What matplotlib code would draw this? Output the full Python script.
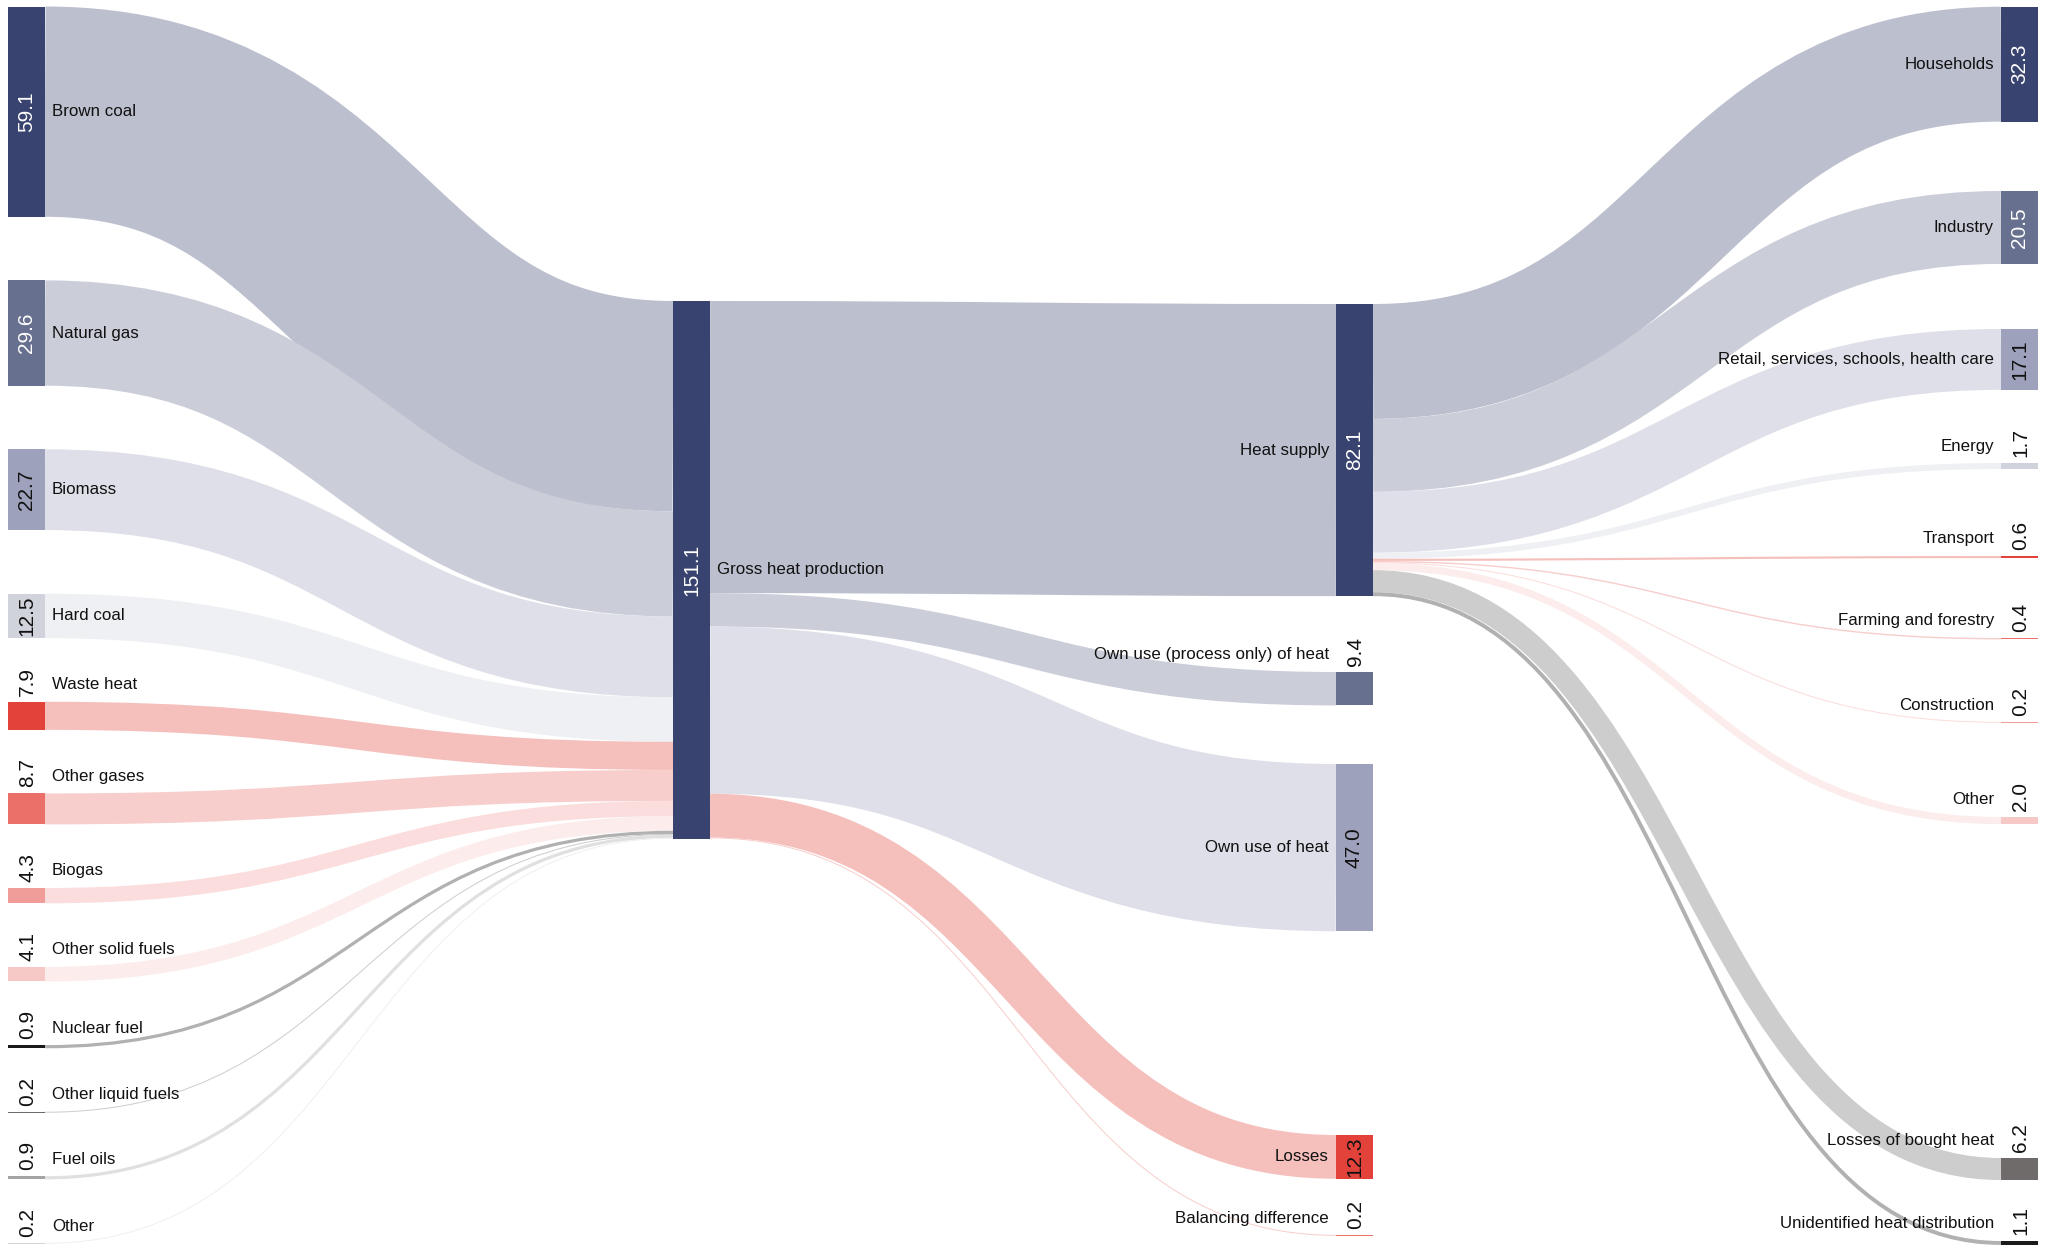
import matplotlib
matplotlib.use("Agg")
import matplotlib.pyplot as plt
from matplotlib.colors import to_rgb
from matplotlib.path import Path
from matplotlib.patches import PathPatch, Rectangle

plt.rcParams['font.family'] = ['Liberation Sans', 'DejaVu Sans']

# heat balance, PJ
sources = ["Brown coal", "Natural gas", "Biomass", "Hard coal", "Waste heat", "Other gases",
           "Biogas", "Other solid fuels", "Nuclear fuel", "Other liquid fuels", "Fuel oils", "Other"]
source_values = [59.1, 29.6, 22.7, 12.5, 7.9, 8.7, 4.3, 4.1, 0.9, 0.2, 0.9, 0.2]

production = "Gross heat production"
production_value = 151.1

uses = ["Heat supply", "Own use (process only) of heat", "Own use of heat", "Losses",
        "Balancing difference"]
use_values = [82.1, 9.4, 47.0, 12.3, 0.2]

consumers = ["Households", "Industry", "Retail, services, schools, health care", "Energy",
             "Transport", "Farming and forestry", "Construction", "Other",
             "Losses of bought heat", "Unidentified heat distribution"]
consumer_values = [32.3, 20.5, 17.1, 1.7, 0.6, 0.4, 0.2, 2.0, 6.2, 1.1]

# colours
blues = ['#394370', '#67708f', '#9ea1bb', '#d0d2dc']
reds = ['#e3423b', '#eb706a', '#f09c98', '#f6c9c6']
greys = ['#1a1a1a', '#6b6b6b', '#a3a3a3', '#d4d4d4']
source_colors = blues + reds + greys
production_color = blues[0]
use_colors = blues[:3] + reds[:2]
consumer_colors = blues + reds + ['#6f6b6b', '#1a1a1a']
LINK_OPACITY = 0.34

# layout (pixels)
K = 3.558           # px per PJ
NODE_W = 37
COL_X = [8, 673, 1336, 2001]
LEFT_TOP, LEFT_PAD = 6.5, 63.6
PRODUCTION_TOP = 301
USE_TOPS = [304, 672, 764, 1135, 1235]
CONSUMER_TOPS = [6.7, 191, 329, 463, 556, 638, 722, 817, 1158, 1241]

nodes = {}


def add_node(key, label, col, top, value, color):
    nodes[key] = dict(label=label, col=col, x=COL_X[col], top=top, value=value,
                      h=value * K, color=color, out_off=0.0, in_off=0.0)


def faded(color):
    r, g, b = to_rgb(color)
    a = LINK_OPACITY
    return (1 - a + a * r, 1 - a + a * g, 1 - a + a * b)


y = LEFT_TOP
for i, (name, v) in enumerate(zip(sources, source_values)):
    add_node(('s', i), name, 0, y, v, source_colors[i])
    y += v * K + LEFT_PAD
add_node('p', production, 1, PRODUCTION_TOP, production_value, production_color)
for i, (name, v) in enumerate(zip(uses, use_values)):
    add_node(('u', i), name, 2, USE_TOPS[i], v, use_colors[i])
for i, (name, v) in enumerate(zip(consumers, consumer_values)):
    add_node(('c', i), name, 3, CONSUMER_TOPS[i], v, consumer_colors[i])

links = [(('s', i), 'p', v) for i, v in enumerate(source_values)]
links += [('p', ('u', i), v) for i, v in enumerate(use_values)]
links += [(('u', 0), ('c', i), v) for i, v in enumerate(consumer_values)]

fig = plt.figure(figsize=(20.51, 12.5), dpi=100)
ax = fig.add_axes([0, 0, 1, 1])
ax.set_xlim(0, 2051)
ax.set_ylim(1250, 0)
ax.axis('off')

# stack link ends on each node, ordered by the position of the node at the other end
out_order = sorted(links, key=lambda l: nodes[l[1]]['top'])
in_order = sorted(links, key=lambda l: nodes[l[0]]['top'])
y_start, y_end = {}, {}
for l in out_order:
    n = nodes[l[0]]
    w = l[2] * K
    y_start[l] = n['top'] + n['out_off'] + w / 2
    n['out_off'] += w
for l in in_order:
    n = nodes[l[1]]
    w = l[2] * K
    y_end[l] = n['top'] + n['in_off'] + w / 2
    n['in_off'] += w

for l in links:
    src, dst = nodes[l[0]], nodes[l[1]]
    color = src['color'] if l[1] == 'p' else dst['color']
    x0 = src['x'] + NODE_W
    x1 = dst['x']
    xm = (x0 + x1) / 2
    y0, y1 = y_start[l], y_end[l]
    path = Path([(x0, y0), (xm, y0), (xm, y1), (x1, y1)],
                [Path.MOVETO, Path.CURVE4, Path.CURVE4, Path.CURVE4])
    ax.add_patch(PathPatch(path, facecolor='none', edgecolor=faded(color),
                           lw=max(l[2] * K, 1.0) * 0.72, capstyle='butt'))

for key, n in nodes.items():
    h = max(n['h'], 1.2)
    ax.add_patch(Rectangle((n['x'], n['top']), NODE_W, h, facecolor=n['color'],
                           edgecolor='none'))
    cx = n['x'] + NODE_W / 2
    inside = n['value'] >= 10
    text = f"{n['value']:.1f}"
    if inside:
        tc = 'white' if n['color'] in (blues[0], blues[1]) else '#111111'
        ax.text(cx, n['top'] + n['h'] / 2, text, rotation=90, rotation_mode='anchor',
                ha='center', va='center', fontsize=15, color=tc)
        ly = n['top'] + n['h'] / 2
    else:
        ax.text(cx + 1, n['top'] - 6, text, rotation=90, rotation_mode='anchor',
                ha='left', va='center', fontsize=15, color='#111111')
        ly = n['top'] - 17
    if n['col'] < 2:
        ax.text(n['x'] + NODE_W + 7, ly, n['label'], ha='left', va='center',
                fontsize=12.2, color='#111111')
    else:
        ax.text(n['x'] - 7, ly, n['label'], ha='right', va='center',
                fontsize=12.2, color='#111111')

fig.savefig('out.png', dpi=100)
